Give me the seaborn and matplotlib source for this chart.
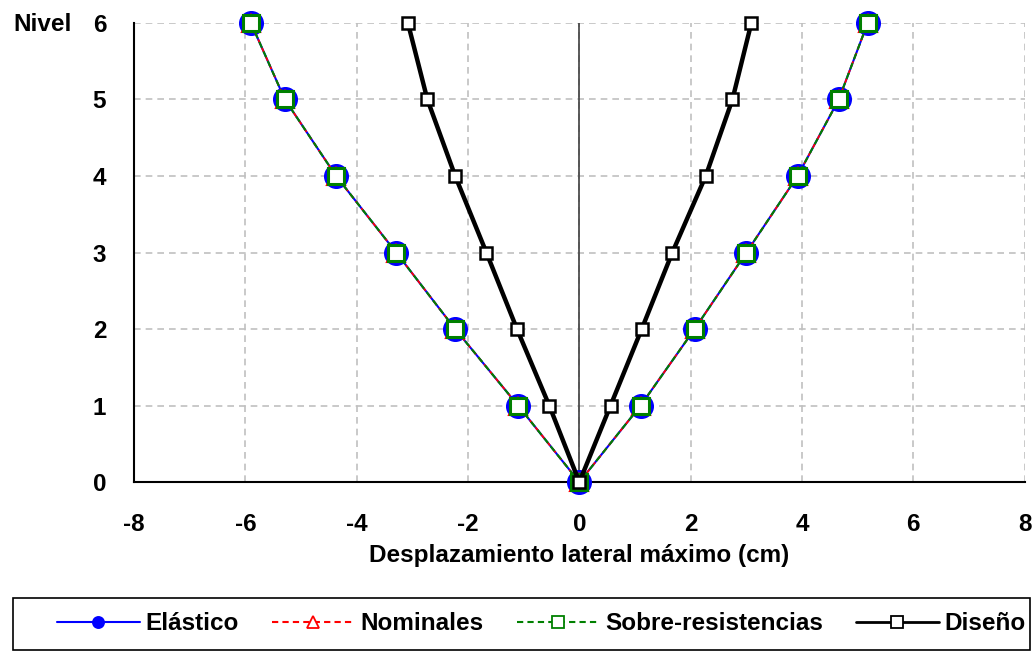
import pandas as pd
import seaborn as sns
import matplotlib.pyplot as plt
from matplotlib.patches import Rectangle

# values (left side from top level down, then right side up)
niveles = [6, 5, 4, 3, 2, 1, 0, 1, 2, 3, 4, 5, 6]
elastico = [-5.90, -5.29, -4.37, -3.29, -2.23, -1.10, 0.0, 1.10, 2.07, 3.00, 3.92, 4.66, 5.18]
nominales = [-5.90, -5.29, -4.37, -3.29, -2.23, -1.10, 0.0, 1.10, 2.07, 3.00, 3.92, 4.66, 5.18]
sobre_resistencias = [-5.90, -5.29, -4.37, -3.29, -2.23, -1.10, 0.0, 1.10, 2.07, 3.00, 3.92, 4.66, 5.18]
diseno = [-3.08, -2.73, -2.23, -1.67, -1.12, -0.54, 0.0, 0.56, 1.12, 1.67, 2.27, 2.75, 3.09]

series = {
    'Elástico': elastico,
    'Nominales': nominales,
    'Sobre-resistencias': sobre_resistencias,
    'Diseño': diseno,
}
rows = []
for name, vals in series.items():
    for i, (x, y) in enumerate(zip(vals, niveles)):
        rows.append({'Serie': name, 'orden': i, 'desp': x, 'nivel': y})
df = pd.DataFrame(rows)

sns.set_style('white')
plt.rcParams['font.family'] = ['Liberation Sans', 'DejaVu Sans']
plt.rcParams['font.weight'] = 'bold'
plt.rcParams['axes.unicode_minus'] = False
plt.rcParams['text.color'] = 'black'
plt.rcParams['axes.labelcolor'] = 'black'
plt.rcParams['xtick.color'] = 'black'
plt.rcParams['ytick.color'] = 'black'

FS = 17.5

fig = plt.figure(figsize=(10.34, 6.56), dpi=100)
ax = fig.add_axes([0.1296, 0.265, 0.8614, 0.700])

styles = {
    'Elástico': dict(color='#0000ff', ls='-', lw=1.5, marker='o', ms=17, mfc='#0000ff', mec='#0000ff', mew=1),
    'Nominales': dict(color='#ff0000', ls=(0, (3, 2)), lw=1.3, marker='^', ms=13, mfc='white', mec='#ff0000', mew=1.5),
    'Sobre-resistencias': dict(color='#008000', ls=(0, (3, 2)), lw=1.5, marker='s', ms=11.5, mfc='white', mec='#008000', mew=2.2),
    'Diseño': dict(color='black', ls='-', lw=3.2, marker='s', ms=9, mfc='white', mec='black', mew=1.8),
}

ax.axvline(0, color='#404040', lw=1.2, zorder=1)

for name in series:
    sub = df[df['Serie'] == name]
    st = styles[name]
    sns.lineplot(data=sub, x='desp', y='nivel', sort=False, estimator=None, ax=ax,
                 color=st['color'], linestyle=st['ls'], linewidth=st['lw'],
                 marker=st['marker'], markersize=st['ms'], markerfacecolor=st['mfc'],
                 markeredgecolor=st['mec'], markeredgewidth=st['mew'], zorder=3,
                 clip_on=False, legend=False)

ax.set_xlim(-8, 8)
ax.set_ylim(0, 6)
ax.set_xticks(range(-8, 9, 2))
ax.set_yticks(range(0, 7))
ax.grid(True, color='#c0c0c0', ls=(0, (4, 3)), lw=1.2)
for s in ['top', 'right']:
    ax.spines[s].set_visible(False)
for s in ['left', 'bottom']:
    ax.spines[s].set_color('black')
    ax.spines[s].set_linewidth(1.5)
    ax.spines[s].set_zorder(2)
ax.tick_params(axis='both', direction='inout', length=12, width=1.5, labelsize=FS, color='black')
ax.tick_params(axis='x', pad=16)
ax.tick_params(axis='y', pad=14)
for lbl in ax.get_xticklabels() + ax.get_yticklabels():
    lbl.set_fontweight('bold')

ax.set_xlabel('Desplazamiento lateral máximo (cm)', fontsize=FS, fontweight='bold', labelpad=6)
ax.set_ylabel('')
fig.text(0.0126, 0.962, 'Nivel', fontsize=FS, fontweight='bold', va='center', ha='left')

handles = []
for name in series:
    st = styles[name]
    h, = ax.plot([], [], color=st['color'], linestyle=st['ls'],
                 linewidth=2.0 if name == 'Diseño' else 1.5,
                 marker=st['marker'], markersize=8, markerfacecolor=st['mfc'],
                 markeredgecolor=st['mec'], markeredgewidth=1.3, label=name)
    handles.append(h)

# legend frame spans the bottom of the figure, entries sit to the right
fig.patches.append(Rectangle((0.0125, 0.009), 0.984, 0.079, transform=fig.transFigure,
                             facecolor='white', edgecolor='black', lw=1.2, zorder=0))
leg = fig.legend(handles=handles, loc='center right', ncol=4,
                 bbox_to_anchor=(0.997, 0.049), fontsize=FS,
                 handlelength=3.4, handletextpad=0.25, columnspacing=1.35,
                 frameon=False, borderpad=0.2, borderaxespad=0.0)
for t in leg.get_texts():
    t.set_fontweight('bold')

fig.savefig('out.png', dpi=100)
